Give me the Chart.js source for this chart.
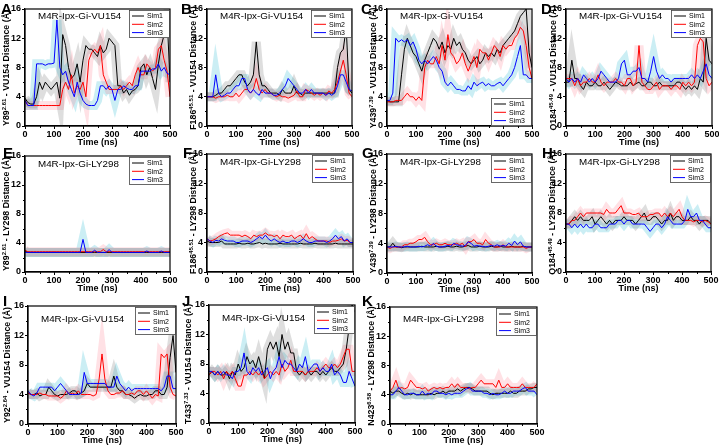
<!DOCTYPE html>
<html>
<head>
<meta charset="utf-8">
<script src="https://cdn.jsdelivr.net/npm/chart.js@4.4.0/dist/chart.umd.min.js"></script>
<style>
  html, body { margin: 0; padding: 0; background: #fff; }
  body { width: 719px; height: 448px; position: relative; overflow: hidden; font-family: "Liberation Sans", Arial, sans-serif; }
  canvas { position: absolute; }
  .letter { position: absolute; font-weight: bold; font-size: 15px; line-height: 15px; color: #000; }
  .ytitle { position: absolute; font-weight: bold; font-size: 8.8px; white-space: nowrap; color: #000;
            transform: translate(-50%, -50%) rotate(-90deg); }
  .ytitle sup { font-size: 6px; vertical-align: 3px; line-height: 0; }
</style>
</head>
<body>
<script>
// time axis (ns)
const timeNs = [0,10,20,30,40,50,60,70,80,90,100,110,120,130,140,150,160,170,180,190,200,210,220,230,240,250,260,270,280,290,300,310,320,330,340,350,360,370,380,390,400,410,420,430,440,450,460,470,480,490,500];
const yTicks = [0, 4, 8, 12, 16];
const xTicks = [0, 100, 200, 300, 400, 500];
const simNames = ['Sim1', 'Sim2', 'Sim3'];

// A  Y89 - VU154
const aSim1 = [3.8,3.2,3.0,3.0,4.0,6.0,5.0,6.0,5.5,5.0, 5.5,6.0,3.8,12.5,11.0,8.0,6.5,7.0,8.5,6.0, 9.0,11.0,10.5,10.5,10.0,9.5,11.0,10.0,10.5,12.0, 11.5,11.0,5.5,5.5,4.5,5.0,4.2,4.8,5.0,5.5, 8.0,8.5,7.0,8.0,6.5,5.0,8.5,11.0,12.5,15.0, 6.0];
const aSim2 = [3.5,2.8,2.8,2.8,2.8,2.8,2.8,2.8,2.8,2.8, 2.8,2.8,2.8,5.0,6.0,5.0,7.0,4.5,5.5,5.0, 6.0,4.0,9.0,10.0,10.5,10.0,11.0,7.0,6.0,5.0, 5.0,5.0,5.0,5.5,5.0,5.5,6.0,5.5,7.0,8.0, 7.0,7.0,8.5,8.0,7.5,8.0,10.5,11.0,9.0,7.5, 4.0];
const aSim3 = [3.5,2.8,2.8,2.8,8.5,8.5,8.5,8.3,8.5,8.5, 8.6,14.5,8.0,7.0,7.5,6.0,5.0,4.0,6.0,4.5, 3.5,3.0,2.8,2.8,2.8,3.5,5.5,5.5,5.0,5.5, 5.0,3.5,5.0,5.0,5.5,5.2,5.0,5.0,5.5,5.5, 7.5,7.5,7.5,7.5,7.8,7.8,8.5,7.5,8.0,7.2, 7.0];

// B  F186 - VU154
const bSim1 = [4.0,4.0,4.0,4.2,4.5,4.5,5.0,5.5,5.5,6.0, 6.5,7.0,7.0,6.0,5.5,6.0,7.0,11.5,7.0,5.5, 5.5,5.0,4.5,4.5,4.5,4.2,5.0,4.5,4.5,4.5, 5.5,4.5,4.5,4.2,4.5,4.5,4.5,4.5,4.5,4.5, 4.5,4.5,4.5,4.5,4.5,8.0,10.0,10.5,13.5,5.0, 4.5];
const bSim2 = [4.0,4.0,4.0,3.8,4.0,4.0,4.0,4.2,4.0,4.0, 4.5,4.0,4.5,5.0,5.0,4.5,5.0,6.5,5.0,4.5, 5.0,4.5,4.5,4.2,4.0,4.2,4.0,4.0,3.8,4.0, 4.2,4.8,4.0,4.0,5.0,4.8,4.5,4.2,4.5,4.2, 4.5,4.2,4.8,4.5,5.0,6.0,7.5,9.0,7.0,4.5, 4.0];
const bSim3 = [4.0,4.0,4.0,7.0,4.5,4.0,4.2,4.5,4.5,5.0, 5.5,5.5,6.5,6.5,5.0,4.5,5.0,4.5,4.2,5.0, 4.5,4.5,4.5,4.2,4.2,4.5,5.0,5.5,6.5,6.0, 5.5,5.0,4.5,4.5,5.0,4.5,5.0,4.5,4.5,4.5, 4.5,4.2,4.5,4.2,4.5,5.5,7.0,7.0,6.0,5.0, 4.8];

// C  Y439 - VU154
const cSim1 = [3.5,3.3,3.3,3.3,3.3,7.0,10.5,12.0,11.0,10.0, 9.5,8.5,7.5,9.0,10.0,11.0,12.0,11.5,10.5,11.5, 10.0,11.0,10.5,12.0,11.0,11.5,10.5,10.0,9.0,8.5, 9.0,9.5,8.5,9.0,10.0,9.5,10.0,9.5,10.5,10.0, 11.0,11.5,12.0,12.5,13.0,14.0,15.0,15.5,16.0,10.0, 8.0];
const cSim2 = [3.3,3.3,3.3,3.5,3.5,3.5,4.0,4.5,4.0,4.0, 3.5,4.0,3.5,8.0,9.0,8.5,8.5,9.5,8.5,11.0, 9.0,12.5,10.0,9.5,8.5,9.0,10.0,8.5,7.5,8.5, 9.5,8.0,10.5,10.0,10.0,9.0,10.0,11.0,10.5,9.5, 11.0,10.5,11.0,11.0,12.0,12.5,13.5,13.0,11.0,8.0, 6.5];
const cSim3 = [3.5,3.5,4.5,12.0,11.5,11.8,11.5,11.8,11.0,11.5, 10.5,9.0,8.5,9.0,8.5,9.0,9.5,9.0,8.0,7.5, 6.0,5.5,6.0,5.5,5.0,5.0,4.8,4.8,5.5,5.0, 6.0,5.5,5.8,6.0,5.5,5.8,5.5,5.5,5.8,6.0, 5.5,6.0,6.5,7.0,8.0,9.5,11.0,7.0,7.0,6.5, 6.5];

// D  Q184 - VU154
const dSim1 = [6.0,6.0,9.0,6.5,6.5,5.5,5.0,6.0,5.5,5.5, 6.0,5.5,5.5,6.0,5.5,5.0,5.5,6.0,5.8,5.5, 5.5,5.5,6.0,5.5,5.8,6.0,5.5,5.5,6.0,6.0, 5.5,5.5,6.0,5.5,5.5,5.5,5.5,5.5,6.0,6.0, 5.5,5.0,5.5,5.0,5.5,5.0,6.5,6.0,12.0,9.0, 8.5];
const dSim2 = [6.5,6.5,6.5,5.5,6.5,5.5,6.0,6.0,6.5,6.0, 6.0,7.0,6.0,5.5,6.0,6.0,6.0,6.5,6.0,6.0, 5.5,6.5,6.5,5.5,6.0,11.0,6.0,5.5,5.0,5.0, 5.5,6.0,5.0,5.5,5.5,5.5,5.0,5.5,5.5,5.0, 6.0,5.5,6.0,5.5,6.0,11.0,12.0,11.5,6.5,5.5, 6.0];
const dSim3 = [6.5,6.0,6.5,6.0,6.5,6.0,7.0,6.5,6.0,6.5, 6.0,6.5,7.5,7.0,6.5,6.0,6.0,6.0,6.5,8.5, 9.0,7.0,7.0,7.5,7.5,8.0,6.5,6.5,6.0,7.5, 9.5,7.5,6.5,7.0,6.5,6.5,6.0,6.5,6.5,6.5, 6.5,6.5,6.5,7.0,6.5,7.0,6.5,7.5,8.5,7.0, 6.5];

// E  Y89 - LY298
const eSim1 = [2.9,2.7,2.7,2.7,2.7,2.7,2.7,2.7,2.7,2.7, 2.7,2.7,2.7,2.7,2.7,2.7,2.7,2.7,2.7,2.7, 2.7,2.7,2.7,2.7,2.7,2.7,2.7,2.7,2.7,2.7, 2.7,2.7,2.7,2.7,2.7,2.7,2.7,2.7,2.7,2.7, 2.7,2.7,2.7,2.7,2.7,2.7,2.7,2.7,2.7,2.7, 2.7];
const eSim2 = [3.0,2.8,2.8,2.8,2.8,2.8,2.8,2.8,2.8,2.8, 2.8,2.8,2.8,2.8,2.8,2.8,2.8,2.8,2.8,2.8, 2.8,2.8,2.8,2.8,2.8,2.8,2.8,3.1,2.8,2.8, 2.8,2.8,2.8,2.8,2.8,2.8,2.8,2.8,2.8,2.8, 2.8,2.8,2.8,2.8,2.8,2.8,2.8,2.8,2.8,2.8, 2.8];
const eSim3 = [2.7,2.7,2.7,2.7,2.7,2.7,2.7,2.7,2.7,2.7, 2.7,2.7,2.7,2.7,2.7,2.7,2.7,2.7,2.7,2.7, 4.5,2.7,2.7,2.7,3.0,2.7,2.7,2.7,2.7,3.1, 2.7,2.7,2.7,2.7,2.7,2.7,2.7,2.7,2.7,2.7, 2.7,2.7,2.9,2.7,2.7,2.7,2.7,2.9,2.7,2.7, 2.7];

// F  F186 - LY298
const fSim1 = [4.2,4.0,4.0,4.0,4.0,4.2,3.8,3.8,3.8,3.8, 3.8,3.9,3.8,3.8,3.9,3.8,3.8,3.9,4.0,3.8, 3.9,3.8,3.8,3.8,3.8,3.9,3.8,3.8,3.8,3.8, 3.8,3.8,3.9,3.8,3.8,3.8,3.8,3.9,3.8,3.8, 3.8,3.8,3.8,3.8,3.9,3.8,3.8,3.8,3.8,3.8, 3.8];
const fSim2 = [4.5,4.2,4.3,4.5,4.8,5.0,5.2,5.3,5.0,5.0, 5.0,5.0,4.8,5.0,4.8,4.5,5.0,4.8,5.0,5.0, 5.3,5.0,5.0,4.8,5.0,4.5,5.0,4.8,4.8,5.0, 4.5,4.8,5.0,4.5,5.2,4.5,4.8,4.5,4.2,4.2, 4.2,4.2,4.0,4.2,4.2,4.3,4.5,4.2,4.3,4.0, 4.0];
const fSim3 = [4.5,4.2,4.0,4.3,4.2,4.5,4.3,4.2,4.2,4.2, 4.0,4.0,4.2,4.2,4.2,4.0,4.2,4.5,4.8,4.5, 5.0,4.5,4.2,4.5,4.2,4.0,4.2,4.0,4.0,4.2, 4.2,4.0,4.2,4.5,4.2,4.0,4.0,4.2,4.2,4.2, 4.2,4.0,4.2,4.5,5.0,4.5,4.8,4.2,4.5,4.0, 4.0];

// G  Y439 - LY298
const gSim1 = [3.5,3.5,4.0,3.5,3.5,3.4,3.5,3.5,3.5,3.5, 3.5,3.5,3.6,3.5,3.5,3.5,3.5,3.6,3.5,3.5, 3.5,3.6,3.5,3.5,3.6,3.5,3.5,3.6,3.7,3.5, 3.5,3.5,3.6,3.5,3.5,3.5,3.6,3.5,3.5,3.6, 3.5,3.5,3.5,3.6,3.5,3.5,3.5,3.6,3.5,3.5, 3.5];
const gSim2 = [3.5,3.3,3.5,3.5,3.5,3.5,3.8,3.8,4.0,4.0, 4.2,4.5,4.5,4.8,4.2,3.8,3.8,4.0,3.8,3.8, 4.0,3.8,3.8,3.8,4.0,3.8,4.0,3.5,4.2,4.2, 4.5,4.0,4.0,3.8,4.5,4.0,3.8,3.5,3.5,3.5, 3.8,3.5,3.5,3.5,3.5,3.5,3.5,3.5,3.3,3.5, 3.5];
const gSim3 = [3.5,3.5,3.5,3.6,3.5,3.5,3.5,3.6,3.5,3.5, 3.5,3.6,3.5,3.6,3.8,3.6,4.0,3.6,3.5,3.5, 3.6,3.7,3.6,4.0,3.8,3.7,3.6,3.7,4.2,4.0, 3.6,3.7,3.6,3.6,3.5,3.6,3.7,3.6,3.8,3.6, 3.7,3.6,4.0,3.7,4.3,3.8,4.2,3.6,3.5,3.5, 3.5];

// H  Q184 - LY298
const hSim1 = [6.5,6.5,7.0,7.5,7.0,7.5,7.0,7.0,7.0,7.5, 6.5,7.0,7.5,7.0,6.5,7.0,6.5,7.0,7.0,7.0, 7.5,7.0,7.0,7.0,6.5,7.0,7.5,8.0,7.0,7.0, 7.5,7.5,7.0,6.5,7.0,7.0,8.0,7.0,7.5,7.5, 7.0,7.0,7.0,7.5,7.0,7.0,6.5,7.0,7.0,7.0, 6.5];
const hSim2 = [6.5,6.5,7.0,7.0,7.5,8.0,7.5,8.0,8.0,8.0, 8.0,8.0,8.0,7.8,8.5,8.0,8.0,8.0,8.5,9.0, 8.0,8.0,8.0,7.8,7.8,8.0,7.5,7.5,7.5,7.8, 7.8,8.0,8.0,7.5,8.0,7.5,8.0,7.5,8.0,8.5, 7.5,7.0,7.0,7.0,6.8,7.0,7.0,6.8,7.0,6.8, 6.5];
const hSim3 = [6.5,6.5,6.0,6.5,6.0,6.5,6.0,6.5,6.0,6.0, 6.5,6.5,6.0,6.0,6.0,6.5,6.5,6.5,7.0,7.0, 6.5,7.0,7.0,6.5,6.5,6.5,6.5,6.5,6.0,5.5, 6.0,6.5,6.5,6.0,6.5,7.5,7.0,6.5,6.5,6.5, 6.5,7.0,8.5,7.5,7.5,8.0,7.0,7.0,6.5,6.0, 6.0];

// I  Y92 - VU154
const iSim1 = [4.2,4.0,4.0,4.2,3.8,4.0,4.0,5.0,4.5,4.0, 3.8,4.0,4.0,4.0,4.2,4.5,4.5,4.0,4.2,4.5, 5.5,5.0,5.0,5.0,5.0,5.0,5.0,5.0,5.0,6.5, 5.0,4.5,4.5,4.0,4.0,3.8,3.5,3.8,4.0,3.8, 3.8,4.0,4.0,4.5,4.5,4.0,4.0,5.0,9.0,12.0, 7.0];
const iSim2 = [4.2,4.0,4.0,4.0,4.2,4.0,4.0,3.8,3.8,3.8, 3.8,3.5,3.8,4.5,4.0,4.2,4.0,4.5,4.0,4.0, 4.0,4.0,3.8,4.0,6.0,9.5,6.0,4.5,4.0,4.0, 4.2,4.2,4.5,4.0,4.0,4.2,4.0,4.5,4.5,4.0, 4.5,4.0,3.5,4.0,3.8,9.5,9.0,9.5,5.0,4.0, 3.8];
const iSim3 = [4.5,4.0,3.8,4.2,5.0,5.0,5.0,5.0,5.0,4.5, 5.0,5.5,5.0,4.5,4.0,4.0,4.0,4.0,4.2,7.0, 5.5,5.5,5.5,5.5,5.5,5.5,5.5,5.0,5.0,5.0, 6.5,5.5,5.0,4.5,5.0,4.5,4.8,4.8,4.8,4.8, 4.8,4.8,4.8,4.8,4.8,4.5,5.0,6.5,6.5,4.8, 4.8];

// J  T433 - VU154
const jSim1 = [6.5,7.0,6.5,7.0,6.5,6.5,7.0,6.0,7.0,6.5, 8.0,7.0,7.5,9.0,8.0,8.5,7.5,9.0,7.5,6.0, 10.0,11.0,10.0,11.0,9.0,12.0,10.0,11.0,9.5,9.5, 7.0,6.5,7.0,6.5,7.0,6.5,7.0,7.0,6.5,7.0, 6.5,7.0,7.5,7.0,7.0,7.5,8.0,10.0,13.0,16.0, 15.0];
const jSim2 = [6.5,7.0,7.0,6.5,7.0,6.0,7.0,6.5,7.0,6.0, 5.0,5.0,6.5,6.5,7.0,6.5,7.0,6.5,7.0,6.0, 6.5,7.0,6.5,7.0,6.5,8.0,7.0,7.5,8.5,7.0, 7.0,7.0,7.0,6.5,7.0,7.0,7.0,7.5,7.0,7.5, 8.0,7.5,7.5,8.0,7.5,8.0,9.0,10.0,10.0,7.0, 7.0];
const jSim3 = [7.0,7.0,6.5,7.0,6.5,7.0,6.5,6.5,6.0,7.0, 7.0,7.5,9.5,7.0,6.5,7.5,7.0,7.5,6.5,7.0, 7.5,6.0,7.0,7.5,9.0,7.5,8.5,8.0,8.0,7.5, 7.0,8.0,7.5,9.0,7.0,7.5,8.0,8.0,7.0,7.5, 7.0,7.0,8.0,6.5,7.0,6.5,5.5,5.5,7.0,6.0, 5.0];

// K  N423 - LY298
const kSim1 = [4.5,4.2,4.5,4.5,4.2,4.0,4.2,4.0,4.2,4.0, 4.0,4.0,4.0,4.0,4.2,4.0,4.2,4.2,4.5,4.2, 4.5,4.5,4.5,4.8,4.5,4.8,5.0,5.0,4.8,4.5, 4.5,4.5,4.5,4.5,4.2,4.0,4.2,4.2,4.2,4.2, 4.2,4.5,4.2,4.2,4.5,4.5,4.5,4.8,4.8,5.0, 5.0];
const kSim2 = [4.5,5.0,6.0,4.8,5.0,4.8,5.0,6.0,5.5,5.0, 5.0,4.8,5.0,4.5,4.8,5.0,4.8,5.0,4.8,5.0, 5.0,5.5,5.0,5.5,5.0,5.0,5.0,4.8,5.0,5.0, 5.5,6.0,5.5,5.5,5.5,5.5,5.0,6.0,5.0,5.0, 5.5,5.0,5.0,5.0,5.0,5.5,5.0,5.0,5.0,5.0, 5.5];
const kSim3 = [4.0,4.0,4.5,5.0,4.5,4.0,4.0,4.2,4.2,4.0, 4.0,4.5,4.0,4.2,4.0,4.5,4.5,4.2,4.2,4.0, 4.2,4.0,4.2,4.2,4.2,4.5,4.8,5.0,4.5,4.5, 4.5,4.5,4.2,4.2,4.0,4.2,4.0,4.0,4.2,4.5, 4.2,4.2,4.5,4.5,4.5,4.8,5.0,4.5,4.5,4.5, 4.0];

const lineColors = ['#000000', '#ff0000', '#0000ff'];
const haloColors = ['rgba(90,90,90,0.20)', 'rgba(255,90,110,0.18)', 'rgba(70,195,215,0.28)'];

const panels = [
  { letter: 'A', x0: 25,  x1: 170, y0: 9,   y1: 126, lx: 1,   ly: 1,   tx: 6,   ttl: 'M4R-Ipx-Gi-VU154', tdy: 7,  leg: 'tr', ylab: 'Y89<sup>2.61</sup> - VU154 Distance (Å)',  sims: [aSim1, aSim2, aSim3] },
  { letter: 'B', x0: 207, x1: 352, y0: 9,   y1: 126, lx: 181, ly: 1,   tx: 193, ttl: 'M4R-Ipx-Gi-VU154', tdy: 7,  leg: 'tr', ylab: 'F186<sup>45.51</sup> - VU154 Distance (Å)', sims: [bSim1, bSim2, bSim3] },
  { letter: 'C', x0: 387, x1: 532, y0: 9,   y1: 126, lx: 361, ly: 1,   tx: 373, ttl: 'M4R-Ipx-Gi-VU154', tdy: 7,  leg: 'br', ylab: 'Y439<sup>7.39</sup> - VU154 Distance (Å)', sims: [cSim1, cSim2, cSim3] },
  { letter: 'D', x0: 566, x1: 712, y0: 9,   y1: 126, lx: 541, ly: 1,   tx: 553, ttl: 'M4R-Ipx-Gi-VU154', tdy: 7,  leg: 'tr', ylab: 'Q184<sup>45.49</sup> - VU154 Distance (Å)', sims: [dSim1, dSim2, dSim3] },
  { letter: 'E', x0: 25,  x1: 170, y0: 156, y1: 272, lx: 3,   ly: 145, tx: 6,   ttl: 'M4R-Ipx-Gi-LY298', tdy: 8,  leg: 'tr', ylab: 'Y89<sup>2.61</sup> - LY298 Distance (Å)',  sims: [eSim1, eSim2, eSim3] },
  { letter: 'F', x0: 207, x1: 353, y0: 154, y1: 272, lx: 183, ly: 145, tx: 193, ttl: 'M4R-Ipx-Gi-LY298', tdy: 8,  leg: 'tr', ylab: 'F186<sup>45.51</sup> - LY298 Distance (Å)', sims: [fSim1, fSim2, fSim3] },
  { letter: 'G', x0: 387, x1: 532, y0: 154, y1: 273, lx: 362, ly: 145, tx: 373, ttl: 'M4R-Ipx-Gi-LY298', tdy: 8,  leg: 'tr', ylab: 'Y439<sup>7.39</sup> - LY298 Distance (Å)', sims: [gSim1, gSim2, gSim3] },
  { letter: 'H', x0: 566, x1: 711, y0: 154, y1: 272, lx: 542, ly: 145, tx: 552, ttl: 'M4R-Ipx-Gi-LY298', tdy: 8,  leg: 'tr', ylab: 'Q184<sup>45.49</sup> - LY298 Distance (Å)', sims: [hSim1, hSim2, hSim3] },
  { letter: 'I', x0: 28,  x1: 176, y0: 306, y1: 424, lx: 3,   ly: 293, tx: 7,   ttl: 'M4R-Ipx-Gi-VU154', tdy: 13, leg: 'tr', ylab: 'Y92<sup>2.64</sup> - VU154 Distance (Å)',  sims: [iSim1, iSim2, iSim3] },
  { letter: 'J', x0: 209, x1: 355, y0: 305, y1: 423, lx: 182, ly: 293, tx: 188, ttl: 'M4R-Ipx-Gi-VU154', tdy: 13, leg: 'tr', ylab: 'T433<sup>7.33</sup> - VU154 Distance (Å)', sims: [jSim1, jSim2, jSim3] },
  { letter: 'K', x0: 390, x1: 537, y0: 307, y1: 424, lx: 362, ly: 293, tx: 371, ttl: 'M4R-Ipx-Gi-LY298', tdy: 12, leg: 'tr', ylab: 'N423<sup>6.58</sup> - LY298 Distance (Å)', sims: [kSim1, kSim2, kSim3] }
];

const YW = 22, XH = 22, PADT = 8, PADR = 12;
const tickFont = { family: 'Liberation Sans, Arial, sans-serif', size: 9, weight: 'bold' };

// frame, minor ticks, inner title and legend
const decor = {
  id: 'decor',
  afterDatasetsDraw(chart, args, opts) {
    const ctx = chart.ctx;
    const ca = chart.chartArea;
    const xs = chart.scales.x, ys = chart.scales.y;
    ctx.save();
    ctx.strokeStyle = '#000';
    ctx.lineWidth = 1.2;
    ctx.strokeRect(ca.left, ca.top, ca.right - ca.left, ca.bottom - ca.top);
    ctx.lineWidth = 1;
    ctx.beginPath();
    [50, 150, 250, 350, 450].forEach(v => {
      const px = Math.round(xs.getPixelForValue(v)) + 0.5;
      ctx.moveTo(px, ca.bottom); ctx.lineTo(px, ca.bottom + 2);
    });
    [2, 6, 10, 14].forEach(v => {
      const py = Math.round(ys.getPixelForValue(v)) + 0.5;
      ctx.moveTo(ca.left, py); ctx.lineTo(ca.left - 2, py);
    });
    ctx.stroke();

    // title inside plot
    ctx.fillStyle = '#000';
    ctx.font = '9.8px "Liberation Sans", Arial, sans-serif';
    ctx.textBaseline = 'middle';
    ctx.textAlign = 'left';
    ctx.fillText(opts.title, ca.left + 13, ca.top + opts.tdy);

    // legend box
    const w = 41, h = 28;
    const left = ca.right - w;
    const top = opts.leg === 'br' ? ca.bottom - h : ca.top + 1;
    ctx.fillStyle = '#fff';
    ctx.fillRect(left, top, w - 1, h);
    ctx.strokeStyle = '#444';
    ctx.lineWidth = 0.8;
    ctx.strokeRect(left + 0.5, top + 0.5, w - 1, h - 1);
    ctx.font = '7px "Liberation Sans", Arial, sans-serif';
    simNames.forEach((name, i) => {
      const yy = top + 6 + i * 8.3;
      ctx.strokeStyle = lineColors[i];
      ctx.lineWidth = 1;
      ctx.beginPath();
      ctx.moveTo(left + 3, yy); ctx.lineTo(left + 15, yy);
      ctx.stroke();
      ctx.fillStyle = '#000';
      ctx.fillText(name, left + 18, yy + 0.5);
    });
    ctx.restore();
  }
};

panels.forEach(p => {
  const cw = YW + (p.x1 - p.x0) + PADR;
  const ch = PADT + (p.y1 - p.y0) + XH;
  const cv = document.createElement('canvas');
  cv.width = cw; cv.height = ch;
  cv.style.left = (p.x0 - YW) + 'px';
  cv.style.top = (p.y0 - PADT) + 'px';
  cv.style.width = cw + 'px'; cv.style.height = ch + 'px';
  document.body.appendChild(cv);

  const lt = document.createElement('div');
  lt.className = 'letter';
  lt.style.left = p.lx + 'px'; lt.style.top = p.ly + 'px';
  lt.textContent = p.letter;
  document.body.appendChild(lt);

  const yt = document.createElement('div');
  yt.className = 'ytitle';
  yt.style.left = p.tx + 'px';
  yt.style.top = ((p.y0 + p.y1) / 2) + 'px';
  yt.innerHTML = p.ylab;
  document.body.appendChild(yt);

  const halos = p.sims.map((s, i) => ({
    data: s.map((v, k) => ({ x: timeNs[k], y: v })),
    borderColor: haloColors[i], borderWidth: 9, order: 10 + i
  }));
  const lines = p.sims.map((s, i) => ({
    label: simNames[i],
    data: s.map((v, k) => ({ x: timeNs[k], y: v })),
    borderColor: lineColors[i], borderWidth: 1, order: 3 - i
  }));

  new Chart(cv.getContext('2d'), {
    type: 'line',
    data: { datasets: [...halos, ...lines] },
    plugins: [decor],
    options: {
      responsive: false,
      animation: false,
      layout: { padding: { top: PADT, right: PADR, left: 0, bottom: 0 } },
      elements: { point: { radius: 0 }, line: { tension: 0 } },
      plugins: {
        legend: { display: false },
        tooltip: { enabled: false },
        decor: { title: p.ttl, tdy: p.tdy, leg: p.leg }
      },
      scales: {
        x: {
          type: 'linear', min: 0, max: 500,
          afterBuildTicks: s => { s.ticks = xTicks.map(v => ({ value: v })); },
          afterFit: s => { s.height = XH; },
          ticks: { color: '#000', font: tickFont, padding: 0, maxRotation: 0 },
          grid: { drawOnChartArea: false, drawTicks: true, tickLength: 3, color: '#000' },
          border: { color: '#000', width: 1.2 },
          title: { display: true, text: 'Time (ns)', color: '#000', font: tickFont, padding: 0 }
        },
        y: {
          min: 0, max: 16,
          afterBuildTicks: s => { s.ticks = yTicks.map(v => ({ value: v })); },
          afterFit: s => { s.width = YW; },
          ticks: { color: '#000', font: tickFont, padding: 1 },
          grid: { drawOnChartArea: false, drawTicks: true, tickLength: 3, color: '#000' },
          border: { color: '#000', width: 1.2 }
        }
      }
    }
  });
});
</script>
</body>
</html>
